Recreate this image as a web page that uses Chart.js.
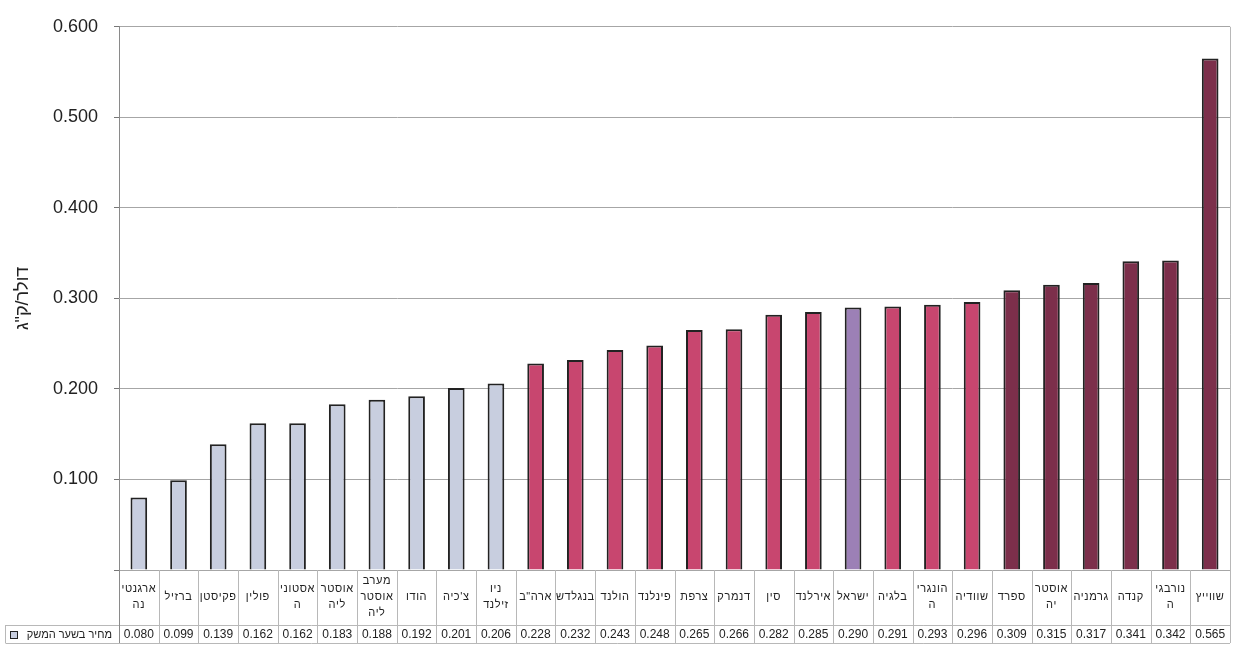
<!DOCTYPE html>
<html lang="he">
<head>
<meta charset="utf-8">
<title>מחיר בשער המשק</title>
<script src="https://cdn.jsdelivr.net/npm/chart.js@4.4.1/dist/chart.umd.min.js"></script>
<style>
  html, body { margin:0; padding:0; background:#fff; }
  #wrap { width:1237px; height:645px; position:relative; }
</style>
</head>
<body>
<div id="wrap"><canvas id="chart"></canvas></div>
<script>
'use strict';

// ===== data =====
const COUNTRIES = [
  ['ארגנטי','נה'], 'ברזיל', 'פקיסטן', 'פולין', ['אסטוני','ה'], ['אוסטר','ליה'],
  ['מערב','אוסטר','ליה'], 'הודו', "צ'כיה", ['ניו','זילנד'], 'ארה"ב', 'בנגלדש',
  'הולנד', 'פינלנד', 'צרפת', 'דנמרק', 'סין', 'אירלנד', 'ישראל', 'בלגיה',
  ['הונגרי','ה'], 'שוודיה', 'ספרד', ['אוסטר','יה'], 'גרמניה', 'קנדה',
  ['נורבגי','ה'], 'שווייץ'
];
const PRICES = [
  0.080, 0.099, 0.139, 0.162, 0.162, 0.183, 0.188, 0.192, 0.201, 0.206,
  0.228, 0.232, 0.243, 0.248, 0.265, 0.266, 0.282, 0.285, 0.290, 0.291,
  0.293, 0.296, 0.309, 0.315, 0.317, 0.341, 0.342, 0.565
];
const SERIES_NAME = 'מחיר בשער המשק';
const Y_TITLE = 'דולר/ק"ג';
const Y_TICKS = [0.1, 0.2, 0.3, 0.4, 0.5, 0.6];

// ===== styles =====
const C_LOW = '#c8cedf';
const C_MID = '#c8466f';
const C_ISR = '#9c80b6';
const C_HIGH = '#7c2f4b';
const BAR_COLORS = COUNTRIES.map((c, i) => {
  if (c === 'ישראל') return C_ISR;
  if (i < 10) return C_LOW;
  if (i < 22) return C_MID;
  return C_HIGH;
});
const FONT = "Arial, 'Liberation Sans', 'DejaVu Sans', sans-serif";
const GRID = '#a6a6a6';
const TABLE_LINE = '#b8b8b8';

// table under the plot: label row + value row
const tablePlugin = {
  id: 'dataTable',
  afterDraw(chart){
    const { ctx, chartArea:{ left, right, top, bottom }, scales:{ x } } = chart;
    const rowMid = bottom + 55;
    const rowBot = rowMid + 18;
    const half = (x.getPixelForValue(1) - x.getPixelForValue(0)) / 2;

    ctx.save();
    ctx.lineWidth = 1;
    ctx.strokeStyle = TABLE_LINE;
    const line = (x1, y1, x2, y2) => {
      ctx.beginPath(); ctx.moveTo(x1, y1); ctx.lineTo(x2, y2); ctx.stroke();
    };

    // plot frame on the right
    line(Math.round(right) + 0.5, top, Math.round(right) + 0.5, rowBot);

    // table rows
    line(5.5, rowMid + 0.5, right, rowMid + 0.5);
    line(5.5, rowBot + 0.5, right, rowBot + 0.5);
    line(5.5, rowMid, 5.5, rowBot);
    for (let i = 1; i < COUNTRIES.length; i++){
      const xb = Math.round(x.getPixelForValue(i) - half) + 0.5;
      line(xb, bottom, xb, rowBot);
    }
    ctx.strokeStyle = '#8a8a8a';
    line(Math.round(left) + 0.5, bottom, Math.round(left) + 0.5, rowBot);

    // category labels
    ctx.fillStyle = '#222';
    ctx.textAlign = 'center';
    ctx.textBaseline = 'middle';
    ctx.font = '11px ' + FONT;
    ctx.letterSpacing = '0.6px';
    COUNTRIES.forEach((c, i) => {
      const lines = Array.isArray(c) ? c : [c];
      const cx = x.getPixelForValue(i);
      const cy = bottom + 27;
      lines.forEach((t, k) => {
        ctx.fillText(t, cx, cy + (k - (lines.length - 1) / 2) * 16);
      });
    });

    // values
    ctx.letterSpacing = '0px';
    ctx.font = '12px ' + FONT;
    PRICES.forEach((v, i) => {
      ctx.fillText(v.toFixed(3), x.getPixelForValue(i), rowMid + 10);
    });

    // legend cell
    ctx.textAlign = 'right';
    ctx.font = '11px ' + FONT;
    ctx.fillText(SERIES_NAME, 112, rowMid + 10);
    ctx.fillStyle = C_LOW;
    ctx.fillRect(10, rowMid + 6, 7, 7);
    ctx.strokeStyle = '#222';
    ctx.strokeRect(10.5, rowMid + 6.5, 7, 7);
    ctx.restore();
  }
};

new Chart(document.getElementById('chart'), {
  type: 'bar',
  data: {
    labels: COUNTRIES,
    datasets: [{
      label: SERIES_NAME,
      data: PRICES,
      backgroundColor: BAR_COLORS,
      borderColor: '#222',
      borderWidth: 2,
      borderSkipped: 'bottom',
      categoryPercentage: 1,
      barPercentage: 0.42
    }]
  },
  options: {
    responsive: true,
    maintainAspectRatio: false,
    animation: false,
    layout: { padding: { top: 19, right: 7, bottom: 75, left: 0 } },
    plugins: {
      legend: { display: false },
      tooltip: { enabled: false }
    },
    scales: {
      x: {
        display: false,
        offset: true
      },
      y: {
        min: 0,
        max: 0.6,
        afterFit(scale){ scale.width = 119; },
        afterBuildTicks(scale){
          scale.ticks = [0].concat(Y_TICKS).map(v => ({ value: v }));
        },
        ticks: {
          padding: 16,
          color: '#222',
          font: { family: FONT, size: 18 },
          callback: v => v === 0 ? '' : Number(v).toFixed(3)
        },
        grid: {
          color: GRID,
          lineWidth: 1,
          drawTicks: true,
          tickLength: 5,
          tickColor: '#777'
        },
        border: { display: true, color: '#8a8a8a' },
        title: {
          display: true,
          text: Y_TITLE,
          color: '#222',
          font: { family: FONT, size: 18 },
          padding: { top: 12, bottom: 0 }
        }
      }
    }
  },
  plugins: [tablePlugin]
});
</script>
</body>
</html>
